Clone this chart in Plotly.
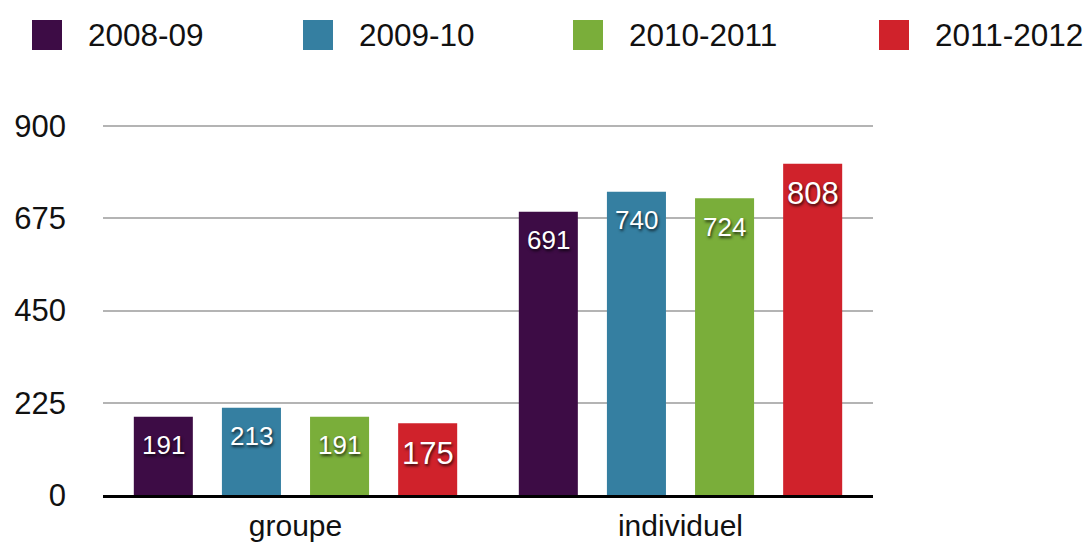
import plotly.graph_objects as go

# ---------------- data ----------------
categories = ["groupe", "individuel"]
series_names = ["2008-09", "2009-10", "2010-2011", "2011-2012"]
values_2008_09 = [191, 691]
values_2009_10 = [213, 740]
values_2010_2011 = [191, 724]
values_2011_2012 = [175, 808]
y_ticks = [0, 225, 450, 675, 900]

series_values = [values_2008_09, values_2009_10, values_2010_2011, values_2011_2012]

# ---------------- style ----------------
colors = ["#3D0C45", "#357FA1", "#7AAE3A", "#D0222B"]
label_sizes = [26, 26, 26, 31]
FONT = "Liberation Sans, Arial, Helvetica, sans-serif"
W, H = 1091, 547
L, R, T, B = 103, 218, 122, 52
BARGAP = 0.0845
BARGROUPGAP = 0.33
Y_RANGE = [0, 910]

fig = go.Figure()
for name, vals, col in zip(series_names, series_values, colors):
    fig.add_trace(go.Bar(
        x=categories, y=vals, name=name,
        marker=dict(color=col, line=dict(width=0)),
        showlegend=False, hoverinfo="x+y+name",
    ))

# value labels inside bars (positioned from data + bar layout parameters)
n = len(series_names)
group_w = 1 - BARGAP
for i, (vals, fs) in enumerate(zip(series_values, label_sizes)):
    for j, v in enumerate(vals):
        xpos = j - group_w / 2 + (i + 0.5) * group_w / n
        fig.add_annotation(
            x=xpos, y=v, xref="x", yref="y", text=str(v), showarrow=False,
            xanchor="center", yanchor="middle", yshift=-(19 + 0.358 * fs),
            font=dict(family=FONT, size=fs, color="white",
                      shadow="1px 2px 3px rgba(0,0,0,0.75)"),
        )

# custom legend (large square swatches like the original)
plot_w = W - L - R
plot_h = H - T - B
def px_x(px):
    return (px - L) / plot_w
def px_y(py):
    return (H - B - py) / plot_h

legend_sq_x = [32, 303, 573, 879]
SQ = 30
SQ_TOP = 20
for name, col, lx in zip(series_names, colors, legend_sq_x):
    fig.add_shape(type="rect", xref="paper", yref="paper",
                  x0=px_x(lx), x1=px_x(lx + SQ), y0=px_y(SQ_TOP + SQ), y1=px_y(SQ_TOP),
                  fillcolor=col, line=dict(width=0), layer="above")
    fig.add_annotation(xref="paper", yref="paper", x=px_x(lx + 54), y=px_y(SQ_TOP + SQ / 2),
                       text=name, showarrow=False, xanchor="left", yanchor="middle",
                       font=dict(family=FONT, size=31.5, color="#111111"))

fig.update_layout(
    width=W, height=H,
    margin=dict(l=L, r=R, t=T, b=B, autoexpand=False),
    paper_bgcolor="white", plot_bgcolor="white",
    barmode="group", bargap=BARGAP, bargroupgap=BARGROUPGAP,
    font=dict(family=FONT, color="#111111"),
    showlegend=False,
)
fig.update_xaxes(
    type="category", range=[-0.5, 1.5],
    showline=True, linecolor="#000000", linewidth=2.5,
    showgrid=False, zeroline=False, ticks="",
    tickfont=dict(family=FONT, size=30, color="#111111"),
    ticklabelstandoff=2,
)
fig.update_yaxes(
    range=Y_RANGE, tickmode="array", tickvals=y_ticks, ticktext=[str(t) for t in y_ticks],
    showgrid=True, gridcolor="#B4B4B4", gridwidth=2,
    zeroline=False, showline=False, ticks="",
    tickfont=dict(family=FONT, size=31, color="#111111"),
    ticklabelstandoff=36,
)

fig.write_html(
    "out.html",
    config={"displayModeBar": False},
    post_script="document.body.style.margin='0';document.body.style.overflow='hidden';",
)
